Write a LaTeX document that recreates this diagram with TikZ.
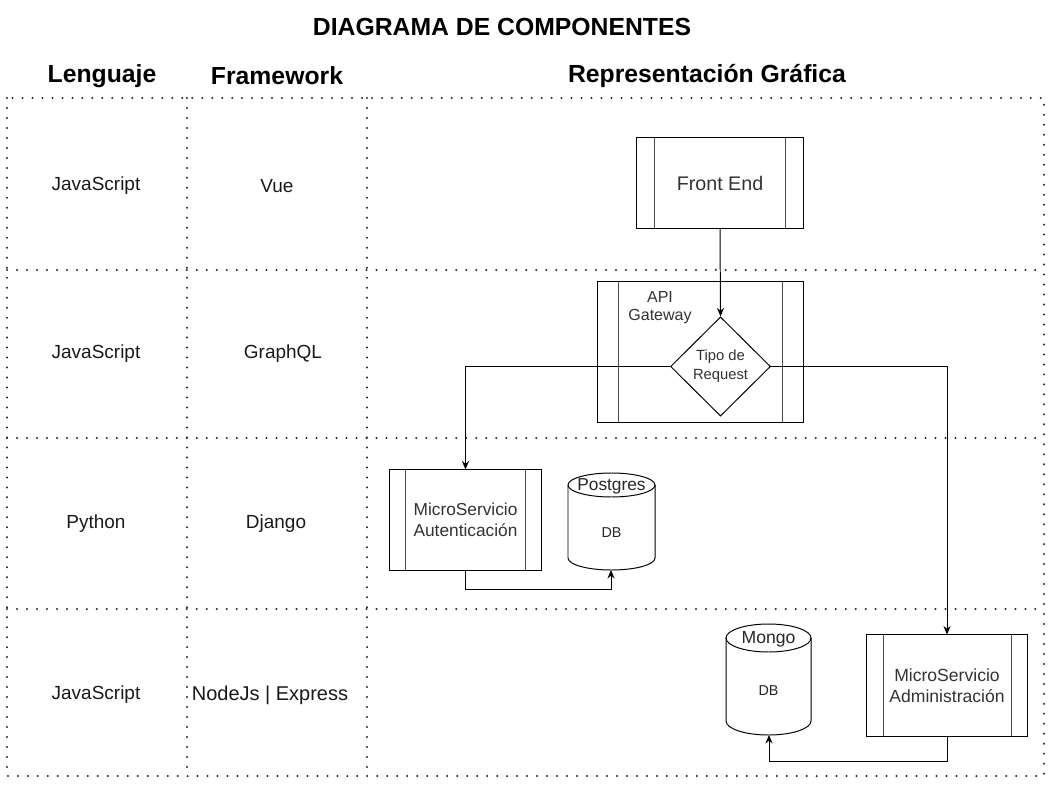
\documentclass[tikz,border=0pt]{standalone}
\usepackage{fontspec}
\setmainfont{Liberation Sans}
\usetikzlibrary{shapes.geometric,arrows.meta}

\begin{document}
\begin{tikzpicture}[x=0.025cm,y=-0.025cm]
\tikzstyle{punteado} = [line width=1.6pt, line cap=round, dash pattern=on 0pt off 7.1pt, black!85]
\tikzstyle{celda} = [font=\fontsize{13.5}{16}\selectfont, text=black!90]
\tikzstyle{titulo} = [font=\fontsize{17.6}{20}\selectfont\bfseries]
\tikzstyle{proceso} = [draw, line width=0.7pt, fill=white, text=black!80, align=center, inner sep=0pt,
  path picture={
    \draw[black!70] ([xshift=#1]path picture bounding box.north west) -- ([xshift=#1]path picture bounding box.south west);
    \draw[black!70] ([xshift=-#1]path picture bounding box.north east) -- ([xshift=-#1]path picture bounding box.south east);
  }]
\tikzstyle{cilindro} = [line width=0.7pt]
\tikzstyle{flecha} = [-{Stealth[length=6pt,width=5pt]}, line width=0.7pt]

\useasboundingbox (0,0) rectangle (1052,787);

% titulo y encabezados
\node[titulo] (titulo) at (502,27) {DIAGRAMA DE COMPONENTES};
\node[titulo] (lenguaje) at (102,76) {Lenguaje};
\node[titulo] (framework) at (277,76) {Framework};
\node[titulo] (grafica) at (707,76) {Representación Gráfica};

% tabla punteada
\draw[punteado] (7,98) rectangle (1044,776);
\foreach \y in {270,438,609}
  \draw[punteado] (7,\y) -- (1044,\y);
\foreach \x in {187,367}
  \draw[punteado] (\x,98) -- (\x,776);

% filas
\node[celda] (len1) at (96,186) {JavaScript};
\node[celda] (fw1) at (277,186) {Vue};
\node[celda] (len2) at (96,354) {JavaScript};
\node[celda] (fw2) at (283,354) {GraphQL};
\node[celda] (len3) at (96,524) {Python};
\node[celda] (fw3) at (276,524) {Django};
\node[celda] (len4) at (96,695) {JavaScript};
\node[celda, font=\fontsize{14.2}{16}\selectfont] (fw4) at (270,695) {NodeJs | Express};

% componentes
\node[proceso=0.45cm, minimum width=4.15cm, minimum height=2.25cm,
  font=\fontsize{14}{17}\selectfont] (front) at (720,183) {Front End};
\node[proceso=0.525cm, minimum width=5.125cm, minimum height=3.5cm] (api) at (700.5,352) {};
\node[font=\fontsize{11.4}{13}\selectfont, text=black!80, align=center] (apitxt) at (660,308) {API\\Gateway};
\node[diamond, draw, line width=0.7pt, fill=white, minimum width=2.5cm, minimum height=2.48cm,
  inner sep=0pt, align=center, text=black!80, font=\fontsize{10.5}{13.5}\selectfont] (tipo) at (720.5,366.5) {Tipo de\\Request};
\node[proceso=0.4cm, minimum width=3.775cm, minimum height=2.5cm,
  font=\fontsize{12.3}{15}\selectfont] (auth) at (465.5,520) {MicroServicio\\Autenticación};
\node[proceso=0.4cm, minimum width=4cm, minimum height=2.525cm,
  font=\fontsize{12.5}{15}\selectfont] (admin) at (947,685.5) {MicroServicio\\Administración};

% bases de datos
\draw[cilindro] (611.5,485) ellipse [x radius=43.5, y radius=12];
\draw[cilindro] (568,485) -- (568,558) arc[start angle=180, end angle=0, x radius=43.5, y radius=12] -- (655,485);
\node[font=\fontsize{12.3}{15}\selectfont, text=black!85] (pgtop) at (611.5,486) {Postgres};
\node[font=\fontsize{10.2}{12}\selectfont, text=black!85] (pgdb) at (611.5,533) {DB};
\coordinate (pgbase) at (611,570);

\draw[cilindro] (768.5,638) ellipse [x radius=42.5, y radius=14];
\draw[cilindro] (726,638) -- (726,721) arc[start angle=180, end angle=0, x radius=42.5, y radius=14] -- (811,638);
\node[font=\fontsize{12.5}{15}\selectfont, text=black!85] (mgtop) at (768.5,639) {Mongo};
\node[font=\fontsize{10.2}{12}\selectfont, text=black!85] (mgdb) at (768.5,691) {DB};
\coordinate (mgbase) at (769,735);

% conexiones
\draw[flecha] (front.south) -- (tipo.north);
\draw[flecha] (tipo.west) -| (auth.north);
\draw[flecha] (tipo.east) -| (admin.north);
\draw[flecha] (auth.south) -- ++(0,19) -| (pgbase);
\draw[flecha] (admin.south) -- ++(0,25) -| (mgbase);

\end{tikzpicture}
\end{document}
